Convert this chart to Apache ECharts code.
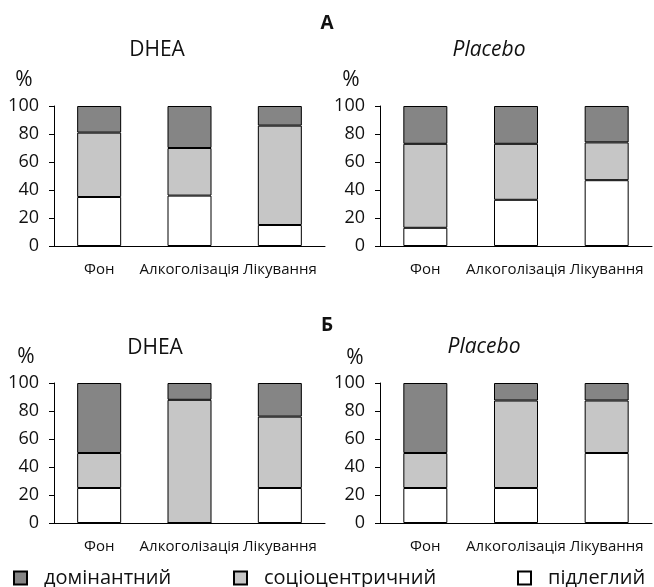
<!DOCTYPE html>
<html>
<head>
<meta charset="utf-8">
<script src="https://cdn.jsdelivr.net/npm/echarts@6/dist/echarts.min.js"></script>
<style>html,body{margin:0;padding:0;background:#fff}#c{width:654px;height:587px}</style>
</head>
<body>
<div id="c"></div>
<script>
var categories = ['Фон', 'Алкоголізація', 'Лікування'];
var yTicks = [0, 20, 40, 60, 80, 100];
var seriesNames = ['підлеглий', 'соціоцентричний', 'домінантний'];
var panelTitles = ['DHEA', 'Placebo', 'DHEA', 'Placebo'];
var sectionLabels = ['А', 'Б'];

// panel A, DHEA
var aDheaSub = [35, 36, 15];
var aDheaSoc = [46, 34, 71];
var aDheaDom = [19, 30, 14];
// panel A, Placebo
var aPlSub = [13, 33, 47];
var aPlSoc = [60, 40, 27];
var aPlDom = [27, 27, 26];
// panel Б, DHEA
var bDheaSub = [25, 0, 25];
var bDheaSoc = [25, 88, 51];
var bDheaDom = [50, 12, 24];
// panel Б, Placebo
var bPlSub = [25, 25, 50];
var bPlSoc = [25, 62.5, 37.5];
var bPlDom = [50, 12.5, 12.5];

var panels = [
  [aDheaSub, aDheaSoc, aDheaDom],
  [aPlSub, aPlSoc, aPlDom],
  [bDheaSub, bDheaSoc, bDheaDom],
  [bPlSub, bPlSoc, bPlDom]
];

var FONT = 'Open Sans';
var colors = ['#ffffff', '#c6c6c6', '#858585'];
var gridPos = [
  {left: 54, top: 106, width: 271, height: 140},
  {left: 380, top: 106, width: 272, height: 140},
  {left: 54, top: 383, width: 271, height: 140},
  {left: 380, top: 383, width: 272, height: 140}
];

var grids = [], xAxes = [], yAxes = [], series = [];
gridPos.forEach(function (g, i) {
  grids.push(g);
  xAxes.push({
    type: 'category', gridIndex: i, data: categories,
    axisLine: {lineStyle: {color: '#000', width: 1}},
    axisTick: {length: 6, lineStyle: {color: '#000'}},
    axisLabel: {color: '#111', fontSize: 15, fontFamily: FONT, margin: 16, interval: 0}
  });
  yAxes.push({
    type: 'value', gridIndex: i, min: 0, max: 100, interval: 20,
    axisLine: {show: true, lineStyle: {color: '#000', width: 1}},
    axisTick: {show: true, length: 5, lineStyle: {color: '#000'}},
    axisLabel: {color: '#111', fontSize: 18, fontFamily: FONT, margin: 15},
    splitLine: {show: false}
  });
  panels[i].forEach(function (vals, k) {
    series.push({
      type: 'bar', name: seriesNames[k], xAxisIndex: i, yAxisIndex: i,
      stack: 'p' + i, data: vals, barWidth: 44,
      itemStyle: {color: colors[k], borderColor: '#000', borderWidth: 1},
      emphasis: {disabled: true}, animation: false
    });
  });
});

function legendAt(name, left) {
  return {
    data: [name], left: left, top: 568, orient: 'horizontal',
    icon: 'rect', itemWidth: 13, itemHeight: 13, padding: 0,
    selectedMode: false,
    textStyle: {fontSize: 20, fontFamily: FONT, color: '#111', padding: [0, 0, 0, 12]}
  };
}

var txt = function (x, y, s, opts) {
  return {
    type: 'text', x: x, y: y,
    style: Object.assign({text: s, fill: '#111', font: '21px "' + FONT + '"', align: 'center', verticalAlign: 'middle'}, opts || {})
  };
};

var graphics = [
  txt(327, 24, sectionLabels[0], {font: 'bold 19px "' + FONT + '"'}),
  txt(157, 50, panelTitles[0]),
  txt(489, 50, panelTitles[1], {font: 'italic 21px "' + FONT + '"'}),
  txt(24, 80, '%', {font: '21px "' + FONT + '"'}),
  txt(351, 80, '%', {font: '21px "' + FONT + '"'}),
  txt(327, 326, sectionLabels[1], {font: 'bold 19px "' + FONT + '"'}),
  txt(155, 348, panelTitles[2]),
  txt(484, 347, panelTitles[3], {font: 'italic 21px "' + FONT + '"'}),
  txt(26, 357, '%', {font: '21px "' + FONT + '"'}),
  txt(355, 358, '%', {font: '21px "' + FONT + '"'})
];

var chart = echarts.init(document.getElementById('c'), null, {renderer: 'canvas'});
chart.setOption({
  animation: false,
  backgroundColor: '#fff',
  grid: grids, xAxis: xAxes, yAxis: yAxes, series: series,
  legend: [legendAt('домінантний', 13), legendAt('соціоцентричний', 233), legendAt('підлеглий', 517)],
  graphic: graphics
});
</script>
</body>
</html>
